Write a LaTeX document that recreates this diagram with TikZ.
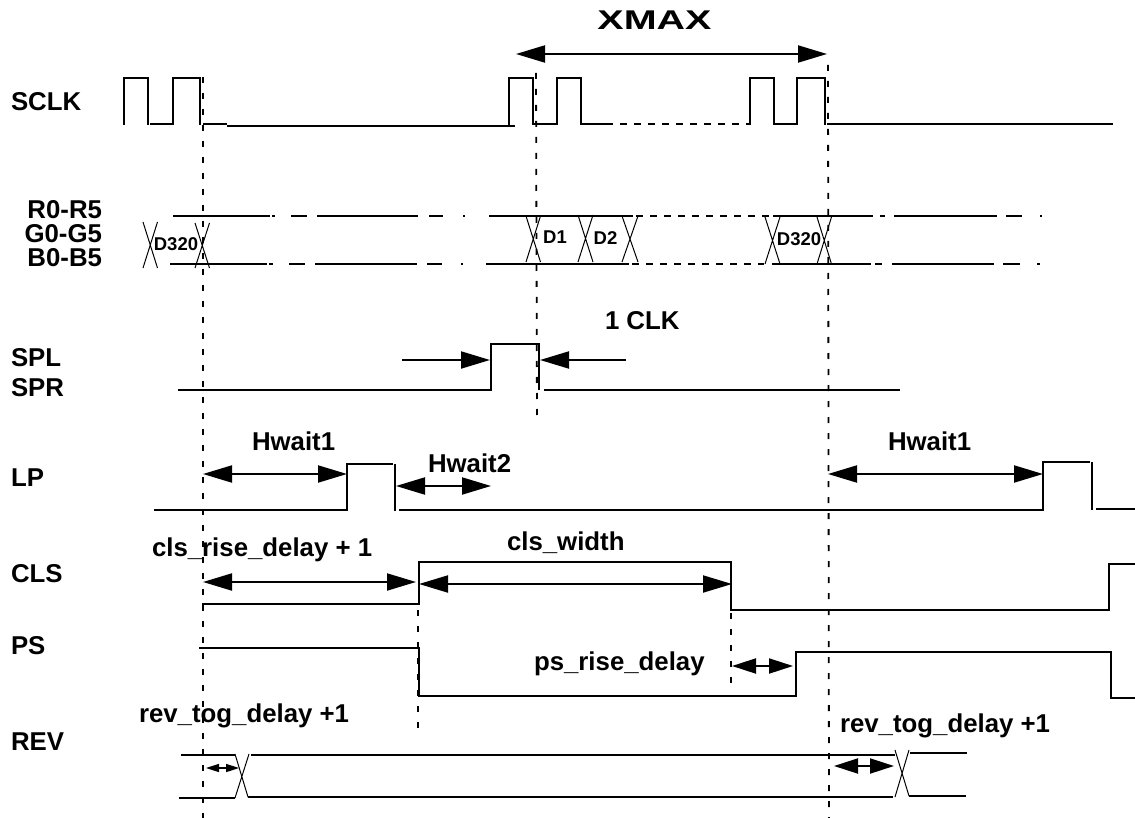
\documentclass[tikz,border=0pt]{standalone}
\usepackage{fontspec}
\setmainfont{Liberation Sans}
\usetikzlibrary{arrows.meta}
\tikzset{
  x=1pt,y=-1pt,
  sig/.style={line width=2pt,line cap=butt,line join=miter,black},
  thinv/.style={line width=1.5pt,black},
  crossl/.style={line width=1pt,black},
  dashsig/.style={line width=2pt,black,dash pattern=on 7pt off 7pt},
  guide/.style={line width=1.8pt,black,dash pattern=on 6pt off 10pt},
  lab/.style={inner sep=0pt,outer sep=0pt,anchor=base west,font=\bfseries\fontsize{25.8}{26}\selectfont},
  tiny/.style={inner sep=0pt,outer sep=0pt,anchor=base,font=\bfseries\fontsize{18.5}{19}\selectfont},
  dimb/.style={line width=2pt,black,{Triangle[length=29pt,width=17pt]}-{Triangle[length=29pt,width=17pt]}},
  dimr/.style={line width=2pt,black,-{Triangle[length=29pt,width=17pt]}},
  dimm/.style={line width=2pt,black,{Triangle[length=24pt,width=15pt]}-{Triangle[length=24pt,width=15pt]}},
  dims/.style={line width=1.6pt,black,{Triangle[length=13pt,width=8pt]}-{Triangle[length=13pt,width=8pt]}},
}
\begin{document}
\begin{tikzpicture}
\useasboundingbox (0,0) rectangle (1135,818);
% guides
\coordinate (ga1) at (203,77);  \coordinate (ga2) at (203,818);
\coordinate (gb1) at (536,73);  \coordinate (gb2) at (537,420);
\coordinate (gc1) at (828,65);  \coordinate (gc2) at (829,818);
\coordinate (gd1) at (418,610); \coordinate (gd2) at (418,728);
\coordinate (ge1) at (731,613); \coordinate (ge2) at (731,687);
\draw[guide] (ga1) -- (ga2);
\draw[guide] (gb1) -- (gb2);
\draw[guide] (gc1) -- (gc2);
\draw[guide] (gd1) -- (gd2);
\draw[guide] (ge1) -- (ge2);
% SCLK
\draw[sig] (124,125) -- (124,78) -- (148,78) -- (148,125);
\draw[sig] (150,124.5) -- (173,124.5) -- (173,78) -- (200,78) -- (200,125);
\draw[sig] (203,124.5) -- (227,124.5);
\draw[sig] (227,126) -- (515,126);
\draw[sig] (509,126) -- (509,78) -- (533,78) -- (533,125);
\draw[sig] (533,124.5) -- (557,124.5) -- (557,78) -- (581,78) -- (581,124.5) -- (606,124.5);
\draw[dashsig] (606,124.5) -- (750,124.5);
\draw[sig] (750,125) -- (750,78) -- (774,78) -- (774,124.5) -- (797,124.5) -- (797,78) -- (825,78) -- (825,125);
\draw[sig] (827,124.5) -- (850,124.5);
\draw[dashsig] (850,124.5) -- (890,124.5);
\draw[sig] (847,124) -- (1113,124);
% data bus top
\draw[sig] (173,216.5) -- (270,216.5);
\draw[sig] (272,216.5) -- (275,216.5);
\draw[sig] (291,216.5) -- (307,216.5);
\draw[sig] (317,216.5) -- (418,216.5);
\draw[sig] (429,216.5) -- (443,216.5);
\draw[sig] (463,216.5) -- (465,216.5);
\draw[sig] (489,216.5) -- (633,216.5);
\draw[dashsig] (636,216.5) -- (773,216.5);
\draw[sig] (773,216.5) -- (873,216.5);
\draw[sig] (880,216.5) -- (885,216.5);
\draw[sig] (894,216.5) -- (997,216.5);
\draw[sig] (1006,216.5) -- (1022,216.5);
\draw[sig] (1040,216.5) -- (1042,216.5);
% data bus bottom
\draw[sig] (170,264.5) -- (267,264.5);
\draw[sig] (269,264.5) -- (273,264.5);
\draw[sig] (289,264.5) -- (305,264.5);
\draw[sig] (315,264.5) -- (417,264.5);
\draw[sig] (427,264.5) -- (442,264.5);
\draw[sig] (461,264.5) -- (463,264.5);
\draw[sig] (486,264.5) -- (629,264.5);
\draw[dashsig] (632,264.5) -- (764,264.5);
\draw[sig] (772,264.5) -- (871,264.5);
\draw[sig] (875,264.5) -- (882,264.5);
\draw[sig] (892,264.5) -- (994,264.5);
\draw[sig] (1003,264.5) -- (1020,264.5);
\draw[sig] (1037,264.5) -- (1040,264.5);
% crossings
\draw[crossl] (143,222) -- (157.5,268) (157.5,222) -- (143,268);
\draw[crossl] (195,223) -- (209.5,268) (209.5,223) -- (195,268);
\draw[crossl] (526,216) -- (540.5,262) (540.5,216) -- (526,262);
\draw[crossl] (578,215) -- (593,262) (593,215) -- (578,262);
\draw[crossl] (622,216) -- (638,262) (638,216) -- (622,262);
\draw[crossl] (765,217) -- (780,264) (780,217) -- (765,264);
\draw[crossl] (817,217) -- (831.5,264) (831.5,217) -- (817,264);
% SPL
\draw[sig] (178,390) -- (491,390) -- (491,344) -- (539,344) -- (539,390);
\draw[sig] (544,390) -- (900,390);
% LP
\draw[sig] (154,510) -- (347,510) -- (347,464) -- (393,464);
\draw[thinv] (395,464) -- (395,511);
\draw[sig] (399,510) -- (1043,510) -- (1043,462) -- (1090,462);
\draw[thinv] (1092,462) -- (1092,510);
\draw[sig] (1096,509) -- (1135,509);
% CLS
\draw[sig] (202,604) -- (419,604) -- (419,562) -- (731,562) -- (731,610) -- (1109,610) -- (1109,564) -- (1135,564);
% PS
\draw[sig] (199,648) -- (419,648) -- (419,696) -- (796,696) -- (796,652) -- (1111,652) -- (1111,698) -- (1135,698);
% REV
\draw[sig] (181,755) -- (235,755);
\draw[sig] (179,798) -- (235,798);
\draw[crossl] (235,754) -- (248,797) (249,754) -- (235,798);
\draw[sig] (251,755) -- (895,755);
\draw[sig] (248,797) -- (893,797);
\draw[crossl] (895,750) -- (909,796) (909,750) -- (895,797);
\draw[sig] (910,753) -- (967,753);
\draw[sig] (909,796) -- (966,796);
% dimension arrows
\coordinate (xl) at (516,54);   \coordinate (xr) at (827,54);
\coordinate (ca) at (402,360);  \coordinate (cb) at (490,360);
\coordinate (cc) at (626,360);  \coordinate (cd) at (540,360);
\coordinate (ha) at (203,474);  \coordinate (hb) at (347,474);
\coordinate (hc) at (396,486);  \coordinate (hd) at (491,486);
\coordinate (he) at (828,474);  \coordinate (hf) at (1043,474);
\coordinate (ra) at (203,582);  \coordinate (rb) at (416,582);
\coordinate (wa) at (419,584);  \coordinate (wb) at (732,584);
\coordinate (pa) at (732,666);  \coordinate (pb) at (793,666);
\coordinate (ta) at (206,768);  \coordinate (tb) at (239,768);
\coordinate (tc) at (834,766);  \coordinate (td) at (894,766);
\draw[dimb] (xl) -- (xr);
\draw[dimr] (ca) -- (cb);
\draw[dimr] (cc) -- (cd);
\draw[dimb] (ha) -- (hb);
\draw[dimb] (hc) -- (hd);
\draw[dimb] (he) -- (hf);
\draw[dimb] (ra) -- (rb);
\draw[dimb] (wa) -- (wb);
\draw[dimm] (pa) -- (pb);
\draw[dims] (ta) -- (tb);
\draw[dimm] (tc) -- (td);
% labels
\node[lab] (lsclk) at (11,111) {SCLK};
\node[lab,anchor=base east] (lr) at (102,219) {R0-R5};
\node[lab,anchor=base east] (lg) at (102,243) {G0-G5};
\node[lab,anchor=base east] (lb) at (102,267) {B0-B5};
\node[lab] (lspl) at (11,366) {SPL};
\node[lab] (lspr) at (11,396) {SPR};
\node[lab] (llp) at (11,486) {LP};
\node[lab] (lcls) at (11,582) {CLS};
\node[lab] (lps) at (11,654) {PS};
\node[lab] (lrev) at (11,750) {REV};
\node[lab,anchor=base] (lxmax) at (654.5,30) {\scalebox{1.53}[1.05]{XMAX}};
\node[tiny] (d320a) at (176,251) {D320};
\node[tiny] (d1) at (555,244) {D1};
\node[tiny] (d2) at (605.5,245) {D2};
\node[tiny] (d320b) at (799,246) {D320};
\node[lab] (lclk) at (605,330) {1 CLK};
\node[lab] (lh1) at (252,450) {Hwait1};
\node[lab] (lh2) at (428,472) {Hwait2};
\node[lab] (lh3) at (888,450) {Hwait1};
\node[lab] (lrise) at (152,556) {cls\_rise\_delay + 1};
\node[lab] (lwidth) at (507,550) {cls\_width};
\node[lab] (lpsr) at (534,670) {ps\_rise\_delay};
\node[lab] (lrev1) at (139,722) {rev\_tog\_delay +1};
\node[lab] (lrev2) at (840,732) {rev\_tog\_delay +1};
\end{tikzpicture}
\end{document}
